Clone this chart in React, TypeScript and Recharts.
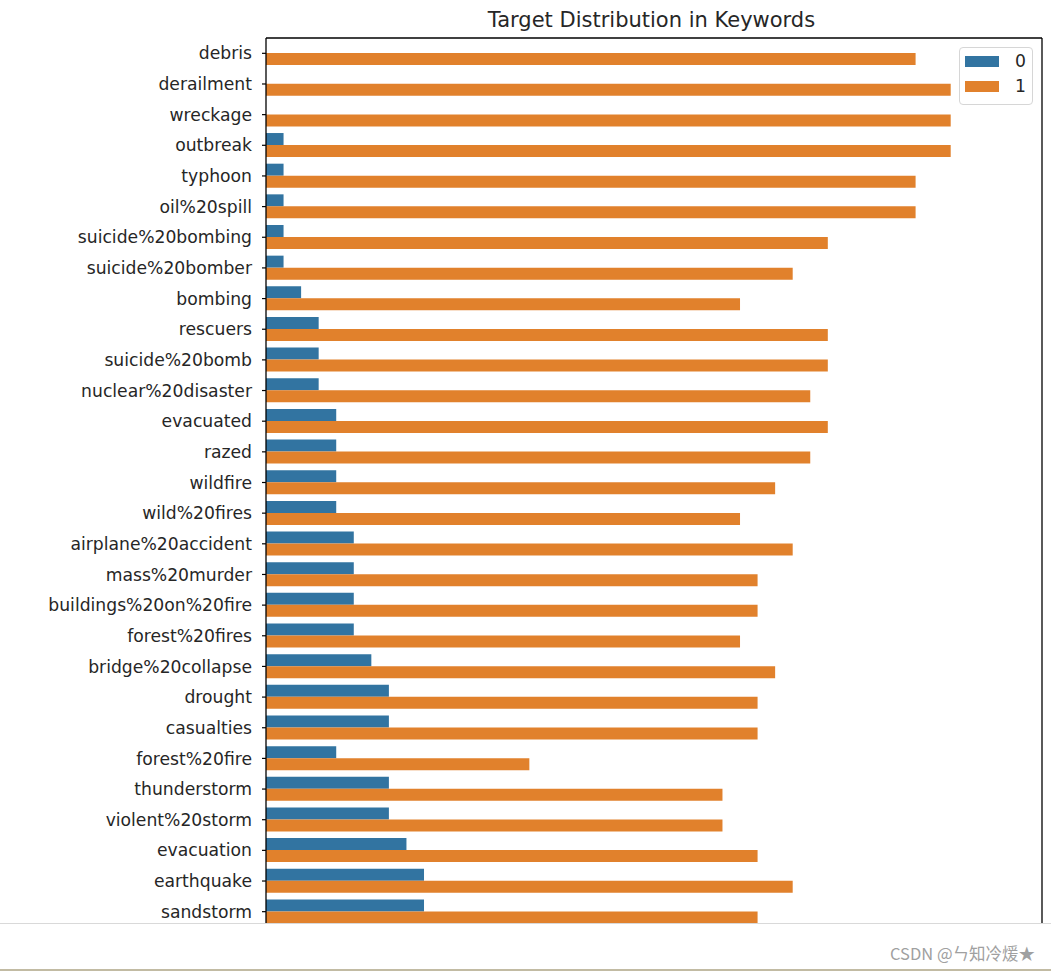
import { BarChart, Bar, XAxis, YAxis } from 'recharts';

const keywords = [
  'debris',
  'derailment',
  'wreckage',
  'outbreak',
  'typhoon',
  'oil%20spill',
  'suicide%20bombing',
  'suicide%20bomber',
  'bombing',
  'rescuers',
  'suicide%20bomb',
  'nuclear%20disaster',
  'evacuated',
  'razed',
  'wildfire',
  'wild%20fires',
  'airplane%20accident',
  'mass%20murder',
  'buildings%20on%20fire',
  'forest%20fires',
  'bridge%20collapse',
  'drought',
  'casualties',
  'forest%20fire',
  'thunderstorm',
  'violent%20storm',
  'evacuation',
  'earthquake',
  'sandstorm',
];

const target0 = [0, 0, 0, 1, 1, 1, 1, 1, 2, 3, 3, 3, 4, 4, 4, 4, 5, 5, 5, 5, 6, 7, 7, 4, 7, 7, 8, 9, 9];
const target1 = [37, 39, 39, 39, 37, 37, 32, 30, 27, 32, 32, 31, 32, 31, 29, 27, 30, 28, 28, 27, 29, 28, 28, 15, 26, 26, 28, 30, 28];

const seriesNames = ['0', '1'];
const seriesColors = ['#3274a1', '#e1812c'];

const data = keywords.map((keyword, i) => ({
  keyword,
  t0: target0[i],
  t1: target1[i],
}));

const FONT = '"DejaVu Sans", sans-serif';
const spine = { stroke: '#000', strokeWidth: 1.3 };

export default function App() {
  return (
    <div
      style={{
        position: 'absolute',
        left: 0,
        top: 0,
        width: 1051,
        height: 971,
        background: '#fff',
        fontFamily: FONT,
        overflow: 'hidden',
      }}
    >
      <div
        style={{
          position: 'absolute',
          left: 264,
          width: 775,
          top: 10,
          textAlign: 'center',
          fontSize: 21,
          lineHeight: '21px',
          color: '#262626',
        }}
      >
        Target Distribution in Keywords
      </div>

      <div style={{ position: 'absolute', left: 0, top: 0, width: 1051, height: 923, overflow: 'hidden' }}>
        <BarChart
          width={1051}
          height={940}
          data={data}
          layout="vertical"
          margin={{ top: 37, right: 8, left: 0, bottom: 13 }}
          barCategoryGap="10%"
          barGap={0}
        >
          <XAxis
            type="number"
            orientation="top"
            domain={[0, 44.2]}
            height={1}
            tick={false}
            tickLine={false}
            axisLine={spine}
          />
          <YAxis
            type="category"
            dataKey="keyword"
            width={266}
            tickSize={4}
            tickMargin={10}
            tickLine={{ stroke: '#000', strokeWidth: 1.2 }}
            axisLine={spine}
            tick={{ fill: '#262626', fontSize: 17.2, fontFamily: FONT }}
            interval={0}
          />
          <YAxis
            yAxisId="right"
            type="category"
            dataKey="keyword"
            orientation="right"
            width={1}
            tick={false}
            tickLine={false}
            axisLine={spine}
          />
          <Bar dataKey="t0" name={seriesNames[0]} fill={seriesColors[0]} isAnimationActive={false} />
          <Bar dataKey="t1" name={seriesNames[1]} fill={seriesColors[1]} isAnimationActive={false} />
        </BarChart>
      </div>

      {/* legend */}
      <div
        style={{
          position: 'absolute',
          left: 959,
          top: 47,
          width: 74,
          height: 58,
          border: '1px solid #d6d6d6',
          borderRadius: 4,
          background: 'rgba(255,255,255,0.8)',
          boxSizing: 'border-box',
        }}
      >
        {seriesNames.map((name, i) => (
          <div
            key={name}
            style={{ position: 'absolute', left: 5, top: 8 + i * 25, display: 'flex', alignItems: 'center' }}
          >
            <div style={{ width: 34, height: 11, background: seriesColors[i] }} />
            <span style={{ marginLeft: 16, fontSize: 17.2, lineHeight: '11px', color: '#262626' }}>{name}</span>
          </div>
        ))}
      </div>

      {/* page footer */}
      <div style={{ position: 'absolute', left: 0, top: 923, width: 1051, height: 1, background: '#d9d9d9' }} />
      <div
        style={{
          position: 'absolute',
          right: 16,
          top: 942,
          fontSize: 16.5,
          lineHeight: '22px',
          color: '#a0a0a0',
          fontFamily: '"Noto Sans CJK SC", "Noto Sans", sans-serif',
        }}
      >
        CSDN @ㄣ知冷煖★
      </div>
      <div style={{ position: 'absolute', left: 0, top: 969, width: 1051, height: 2, background: '#c2bba3' }} />
    </div>
  );
}
